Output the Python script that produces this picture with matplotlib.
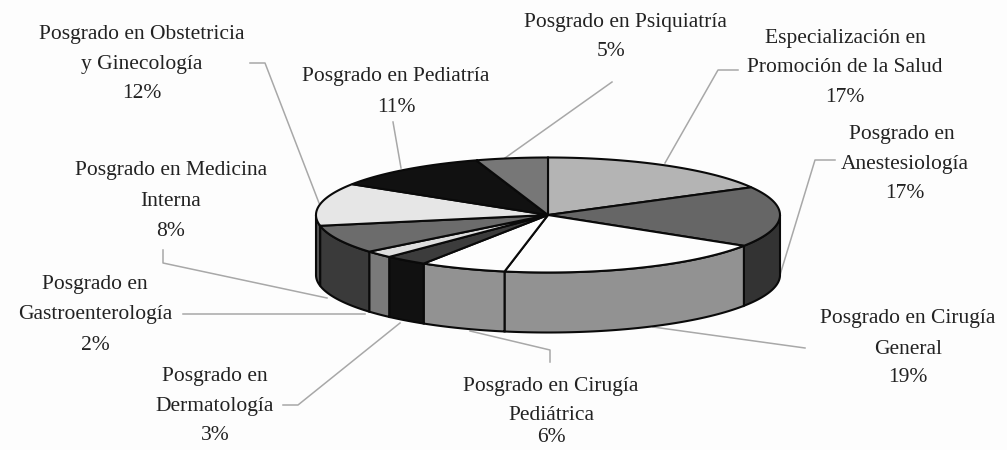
import numpy as np
import matplotlib
matplotlib.use('Agg')
import matplotlib.pyplot as plt
from matplotlib.patches import Polygon

# slices clockwise from 12 o'clock
names = ['Promoción', 'Anestesiología', 'Cirugía General', 'Cirugía Pediátrica', 'Dermatología',
         'Gastroenterología', 'Medicina Interna', 'Obstetricia', 'Pediatría', 'Psiquiatría']
shares = [17, 17, 19, 6, 3, 2, 8, 12, 11, 5]
top_colors = ['#b4b4b4', '#666666', '#fdfdfd', '#fdfdfd', '#3c3c3c',
              '#dedede', '#6c6c6c', '#e6e6e6', '#111111', '#777777']
side_colors = ['#707070', '#333333', '#929292', '#929292', '#111111',
               '#7a7a7a', '#3a3a3a', '#555555', '#111111', '#444444']

label_lines = [
    (['Especialización en', 'Promoción de la Salud', '17%'], [845, 845, 845], [39, 68, 98]),
    (['Posgrado en', 'Anestesiología', '17%'], [902, 905, 905], [135, 165, 194]),
    (['Posgrado en Cirugía', 'General', '19%'], [908, 908, 908], [318, 349, 378]),
    (['Posgrado en Cirugía', 'Pediátrica', '6%'], [551, 551, 551], [387, 415, 438]),
    (['Posgrado en', 'Dermatología', '3%'], [215, 215, 215], [376, 406, 436]),
    (['Posgrado en', 'Gastroenterología', '2%'], [95, 95, 95], [285, 315, 345]),
    (['Posgrado en Medicina', 'Interna', '8%'], [171, 171, 171], [171, 201, 231]),
    (['Posgrado en Obstetricia', 'y Ginecología', '12%'], [142, 142, 142], [35, 64, 94]),
    (['Posgrado en Pediatría', '11%'], [396, 396], [77, 107]),
    (['Posgrado en Psiquiatría', '5%'], [625, 611], [22, 52]),
]

leaders = [
    ([738, 718, 665], [70, 70, 163]),
    ([835, 815, 780], [160, 160, 275]),
    ([805, 653], [348, 327]),
    ([550, 550, 470], [362, 350, 331]),
    ([283, 298, 400], [405, 405, 323]),
    ([183, 365], [314, 314]),
    ([163, 163, 327], [250, 263, 298]),
    ([250, 265, 319], [63, 63, 203]),
    ([393, 401], [122, 168]),
    ([612, 505], [82, 158]),
]

cx, cy, rx, ry, depth = 548, 215, 232, 57.5, 60

plt.rcParams['font.family'] = ['Liberation Serif', 'DejaVu Serif']
fig = plt.figure(figsize=(10.07, 4.5), dpi=100, facecolor='#fdfdfd')
ax = fig.add_axes([0, 0, 1, 1])
ax.set_xlim(0, 1007)
ax.set_ylim(450, 0)
ax.axis('off')


def rim(a):
    a = np.radians(a)
    return cx + rx * np.sin(a), cy - ry * np.cos(a)


for xs, ys in leaders:
    ax.plot(xs, ys, color='#a8a8a8', lw=1.1, zorder=1)

edges = np.concatenate([[0], np.cumsum(shares)]) * 3.6

# front wall first
for i in range(len(shares)):
    a0, a1 = max(edges[i], 90), min(edges[i + 1], 270)
    if a0 < a1:
        x, y = rim(np.linspace(a0, a1, 60))
        pts = np.column_stack([np.r_[x, x[::-1]], np.r_[y, y[::-1] + depth]])
        ax.add_patch(Polygon(pts, fc=side_colors[i], ec='#0a0a0a', lw=1.5, zorder=2))

for i in range(len(shares)):
    x, y = rim(np.linspace(edges[i], edges[i + 1], 60))
    pts = np.column_stack([np.r_[cx, x], np.r_[cy, y]])
    ax.add_patch(Polygon(pts, fc=top_colors[i], ec='#0a0a0a', lw=1.5, zorder=3))

for lines, txs, tys in label_lines:
    for line, tx, ty in zip(lines, txs, tys):
        ax.text(tx, ty, line, ha='center', va='center', fontsize=15.5, color='#222222', zorder=4)

fig.savefig('out.png', dpi=100, facecolor=fig.get_facecolor())
